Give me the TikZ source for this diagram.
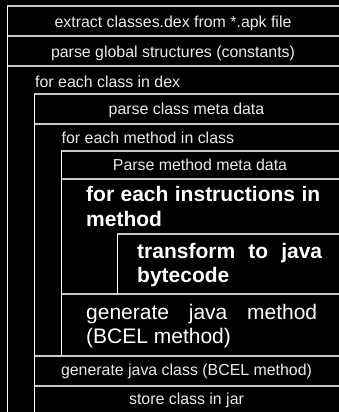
\documentclass[tikz,border=0pt]{standalone}
\usepackage{fontspec}
\setmainfont{Liberation Sans}
\usepackage{tikz}
\usetikzlibrary{positioning}

\newcommand{\nohyph}{\hyphenpenalty=10000\relax\exhyphenpenalty=10000\relax}

\begin{document}
\begin{tikzpicture}[x=1pt,y=-1pt]
    \tikzstyle{hrule}=[draw=white!78!black, line width=1.6pt]
    \tikzstyle{vrule}=[draw=white, line width=0.9pt]
    \tikzstyle{cell}=[text=white!92!black, inner sep=0pt, font=\fontsize{15.9}{19}\selectfont]
    \tikzstyle{loophead}=[cell, anchor=base west]
    \tikzstyle{block}=[text=white, inner sep=0pt, anchor=base west, align=justify, font=\fontsize{21}{24.5}\selectfont\nohyph]
    \tikzstyle{boldblock}=[block, font=\fontsize{21}{24.5}\selectfont\bfseries\nohyph]

    \fill[black] (0,0) rectangle (339,412);
    \useasboundingbox (0,0) rectangle (339,412);

    % rows
    \draw[hrule] (7,6) -- (339,6);
    \draw[hrule] (7,36) -- (339,36);
    \draw[hrule] (7,66) -- (339,66);
    \draw[hrule] (34,94) -- (339,94);
    \draw[hrule] (34,124) -- (339,124);
    \draw[hrule] (61,151) -- (339,151);
    \draw[hrule] (61,179) -- (339,179);
    \draw[hrule] (117,234) -- (339,234);
    \draw[hrule] (61,294) -- (339,294);
    \draw[hrule] (34,356) -- (339,356);
    \draw[hrule] (34,386) -- (339,386);

    % loop bars
    \draw[vrule] (7,6) -- (7,412);
    \draw[vrule] (34,94) -- (34,412);
    \draw[vrule] (61,151) -- (61,356);
    \draw[vrule] (117,234) -- (117,294);

    \node[cell, anchor=base]  (extract) at (173,27.3)  {extract classes.dex from *.apk file};
    \node[cell, anchor=base]  (globals) at (173,57.3)  {parse global structures (constants)};
    \node[loophead]  (classloop) at (35,87)  {for each class in dex};
        \node[cell, anchor=base]  (classmeta) at (186.5,114)  {parse class meta data};
        \node[loophead]  (methodloop) at (61.5,143.3)  {for each method in class};
            \node[cell, anchor=base]  (methodmeta) at (200,170.7)  {Parse method meta data};
            \node[boldblock, text width=234pt]  (insnloop) at (86,201.7)  {for each instructions in method};
                \node[boldblock, text width=185pt]  (transform) at (137,258.3)  {transform to java bytecode};
            \node[block, text width=231pt]  (genmethod) at (86,319.3)  {generate java method (BCEL method)};
        \node[cell, anchor=base]  (genclass) at (186.5,375.7)  {generate java class (BCEL method)};
        \node[cell, anchor=base]  (store) at (186.5,404)  {store class in jar};

\end{tikzpicture}
\end{document}
